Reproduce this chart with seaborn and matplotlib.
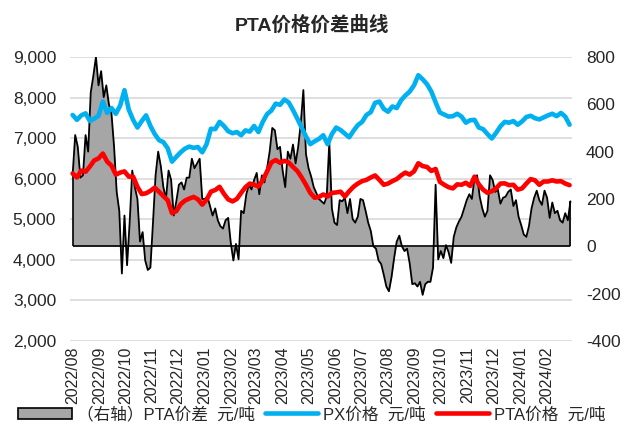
import pandas as pd
import numpy as np
import matplotlib
matplotlib.use('Agg')
import matplotlib.pyplot as plt
import matplotlib.dates as mdates
from matplotlib.ticker import FuncFormatter
from matplotlib.patches import Patch
from matplotlib.lines import Line2D
import seaborn as sns

# PTA价差（右轴），每3天一个点，起始 2022-08-01
spread_start = '2022-08-01'
spread_vals = [
    300, 470, 420, 290, 300, 470, 400, 650, 720, 800,
    680, 740, 630, 680, 600, 560, 420, 230, 150, -115,
    130, -80, 100, 320, 250, 200, 20, 60, -60, -100,
    -90, 100, 300, 400, 340, 250, 200, 320, 280, 130,
    190, 260, 270, 240, 290, 290, 370, 330, 350, 370,
    200, 200, 210, 170, 130, 160, 110, 85, 75, 110,
    120, 15, -60, 10, -55, 150, 140, 220, 260, 240,
    280, 310, 220, 300, 270, 330, 400, 500, 490, 410,
    420, 320, 250, 400, 370, 430, 350, 420, 520, 660,
    390, 330, 295, 250, 225, 200, 190, 180, 210, 440,
    160, 100, 90, 195, 190, 205, 140, 200, 115, 100,
    125, 200, 195, 150, 100, 65, 0, -10, -60, -75,
    -120, -170, -190, -130, -50, 20, 45, 0, -20, -10,
    -72, -160, -156, -170, -150, -205, -160, -150, -150, -90,
    260, -55, -20, -50, 5, -25, -70, 40, 80, 105,
    125, 160, 195, 220, 200, 290, 300, 210, 160, 125,
    150, 300, 280, 230, 240, 180, 205, 210, 230, 240,
    170, 195, 125, 90, 50, 40, 85, 160, 205, 235,
    195, 175, 235, 205, 120, 185, 140, 150, 110, 100,
    140, 110, 190,
]

# PX价格 / PTA价格（左轴），每5天一个点
price_start = '2022-08-01'
px_vals = [
    7570, 7450, 7560, 7610, 7420, 7480, 7550, 7900, 7620, 7740,
    7600, 7800, 8180, 7700, 7450, 7260, 7420, 7560, 7300, 7100,
    6950, 6900, 6750, 6420, 6540, 6650, 6740, 6790, 6760, 6780,
    6650, 6850, 7230, 7220, 7400, 7300, 7170, 7120, 7150, 7070,
    7190, 7160, 7300, 7150, 7400, 7590, 7680, 7850, 7820, 7950,
    7880, 7690, 7480, 7260, 7040, 6850, 6920, 6980, 7070, 6850,
    7100, 7260, 7200, 7110, 7020, 7180, 7320, 7400, 7570, 7640,
    7870, 7900, 7720, 7650, 7780, 7740, 7930, 8050, 8145, 8300,
    8550, 8450, 8330, 8150, 7880, 7630, 7580, 7530, 7540, 7600,
    7530, 7380, 7440, 7450, 7260, 7220, 7100, 6990, 7130, 7290,
    7400, 7380, 7420, 7330, 7410, 7520, 7550, 7490, 7460, 7510,
    7560, 7600, 7540, 7620, 7530, 7330,
]
pta_vals = [
    6130, 6030, 6200, 6170, 6300, 6450, 6500, 6620, 6420, 6320,
    6100, 6150, 6180, 6050, 6050, 5800, 5620, 5640, 5700, 5780,
    5680, 5570, 5470, 5150, 5200, 5370, 5460, 5510, 5550, 5490,
    5360, 5480, 5680, 5720, 5800, 5630, 5490, 5440, 5500, 5650,
    5790, 5880, 5850, 5810, 5960, 6180, 6400, 6460, 6390, 6440,
    6400, 6290, 6190, 6030, 5850, 5650, 5530, 5550, 5610, 5560,
    5650, 5660, 5680, 5560, 5690, 5800, 5880, 5940, 5970, 6030,
    6080, 5970, 5850, 5880, 5940, 5990, 6080, 6150, 6100, 6180,
    6380, 6310, 6290, 6190, 6240, 5920, 5850, 5790, 5760, 5860,
    5850, 5900, 5820, 6050, 5860, 5730, 5650, 5690, 5760, 5880,
    5885, 5840, 5850, 5730, 5760, 5880, 5990, 5960, 5850, 5930,
    5930, 5960, 5930, 5940, 5880, 5840,
]

left_ticks = [2000, 3000, 4000, 5000, 6000, 7000, 8000, 9000]
right_ticks = [-400, -200, 0, 200, 400, 600, 800]

labels = ['（右轴）PTA价差  元/吨', 'PX价格  元/吨', 'PTA价格  元/吨']
title = 'PTA价格价差曲线'

spread_df = pd.DataFrame({
    'date': pd.date_range(spread_start, periods=len(spread_vals), freq='3D'),
    'spread': spread_vals,
})
price_df = pd.DataFrame({
    'date': pd.date_range(price_start, periods=len(px_vals), freq='5D'),
    'px': px_vals,
    'pta': pta_vals,
})

sns.set_style('white')
plt.rcParams['font.family'] = ['Liberation Sans', 'Noto Sans CJK SC', 'DejaVu Sans']
plt.rcParams['axes.unicode_minus'] = False

fig = plt.figure(figsize=(6.24, 4.33), dpi=100)
ax = fig.add_axes([0.1122, 0.2125, 0.8045, 0.656])
ax_s = ax.twinx()
ax_p = ax.twinx()

# 网格 + 左轴
ax.set_ylim(2000, 9000)
ax.set_yticks(left_ticks)
ax.yaxis.set_major_formatter(FuncFormatter(lambda v, p: f'{v:,.0f}'))
ax.grid(axis='y', color='#D9D9D9', linewidth=1.2)
ax.grid(axis='x', visible=False)

# 价差面积（右轴）
ax_s.fill_between(spread_df['date'], spread_df['spread'], 0, color='#A6A6A6', linewidth=0)
sns.lineplot(data=spread_df, x='date', y='spread', ax=ax_s, color='black', linewidth=1.3)
d0, d1 = spread_df['date'].iloc[0], spread_df['date'].iloc[-1]
ax_s.hlines(0, d0, d1, color='black', linewidth=1.2)
ax_s.vlines([d0, d1], 0, [spread_vals[0], spread_vals[-1]], color='black', linewidth=1.2)
ax_s.set_ylim(-400, 800)
ax_s.set_yticks(right_ticks)
ax_s.set_ylabel('')

# 价格线
sns.lineplot(data=price_df, x='date', y='px', ax=ax_p, color='#00B0F0', linewidth=3.3)
sns.lineplot(data=price_df, x='date', y='pta', ax=ax_p, color='#FF0000', linewidth=3.3)
ax_p.set_ylim(2000, 9000)
ax_p.set_yticks([])
ax_p.set_ylabel('')

for a in (ax, ax_s, ax_p):
    for sp in a.spines.values():
        sp.set_visible(False)
    a.set_xlabel('')

ax.set_xlim(pd.Timestamp('2022-07-29'), pd.Timestamp('2024-02-29 20:00'))
ax.xaxis.set_major_locator(mdates.MonthLocator())
ax.xaxis.set_major_formatter(mdates.DateFormatter('%Y/%m'))
ax.tick_params(axis='x', labelrotation=90, length=0, labelsize=11.5, pad=4)
ax.tick_params(axis='y', length=0, labelsize=12.5, pad=10)
ax_s.tick_params(axis='y', length=0, labelsize=12.5, pad=10)
ax_s.tick_params(axis='x', length=0)
ax_p.tick_params(axis='x', length=0)

fig.suptitle(title, x=0.5, y=0.965, fontsize=14, fontweight='bold')

handles = [
    Patch(facecolor='#A6A6A6', edgecolor='black', linewidth=1.2),
    Line2D([0], [0], color='#00B0F0', linewidth=3.3),
    Line2D([0], [0], color='#FF0000', linewidth=3.3),
]
fig.legend(handles, labels, loc='lower center', bbox_to_anchor=(0.5, -0.01), ncol=3,
           frameon=False, fontsize=12, handlelength=3.2, handletextpad=0.3, columnspacing=0.6)

fig.savefig('out.png', dpi=100)
